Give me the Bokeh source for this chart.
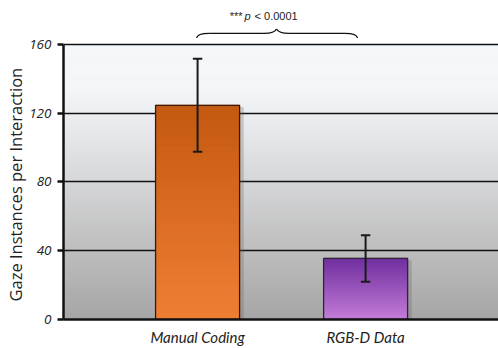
import numpy as np
from bokeh.plotting import figure
from bokeh.models import FixedTicker, Range1d, Title
from bokeh.core.properties import value
from bokeh.embed import file_html
from bokeh.resources import INLINE

# ---- data ----
categories = ["Manual Coding", "RGB-D Data"]
cat_pos = [1, 2]
means = [124.5, 35.5]
errors = [27.0, 13.5]
y_ticks = [0, 40, 80, 120, 160]
y_title = "Gaze Instances per Interaction"
sig_text = "p"
sig_stars = "***"
sig_value = "< 0.0001"

# ---- styling ----
bar_top_colors = ["#c45911", "#7030a0"]
bar_bottom_colors = ["#ef7f34", "#c47dd8"]
bar_edge = ["#3a1a06", "#2e2433"]
bg_stops_v = [0, 40, 80, 120, 135, 160]
bg_stops_c = ["#a5a5a5", "#bdbdbd", "#d5d6d8", "#eceef1", "#f3f6f9", "#f5f8fb"]
X0, X1 = 0.202, 2.791
YMAX = 185.4


def hex2rgb(h):
    h = h.lstrip("#")
    return np.array([int(h[i:i + 2], 16) for i in (0, 2, 4)], float)


def rgb2hex(c):
    return "#%02x%02x%02x" % tuple(int(round(v)) for v in c)


def interp_color(stops_v, stops_c, v):
    cs = np.array([hex2rgb(c) for c in stops_c])
    return rgb2hex([np.interp(v, stops_v, cs[:, k]) for k in range(3)])


p = figure(width=498, height=348, output_backend="svg", toolbar_location=None,
           x_range=Range1d(X0, X1), y_range=Range1d(0, YMAX),
           min_border_left=63, min_border_right=0, min_border_top=0, min_border_bottom=27)
p.outline_line_color = None
p.background_fill_color = "white"
p.border_fill_color = "white"

# background gradient
n = 80
edges = np.linspace(0, y_ticks[-1], n + 1)
mids = (edges[:-1] + edges[1:]) / 2
bg_cols = [interp_color(bg_stops_v, bg_stops_c, m) for m in mids]
p.quad(left=X0, right=X1, bottom=edges[:-1], top=edges[1:],
       fill_color=bg_cols, line_color=bg_cols, line_width=1, level="image")

bw = 0.5
# shadows
for xc, m in zip(cat_pos, means):
    p.quad(left=xc - bw / 2 + 0.01, right=xc + bw / 2 + 0.025, bottom=0, top=m - 1.0,
           fill_color="#5a5a5a", fill_alpha=0.25, line_color=None)

# gradient bars
for xc, m, ct, cb, ce in zip(cat_pos, means, bar_top_colors, bar_bottom_colors, bar_edge):
    k = 60
    e = np.linspace(0, m, k + 1)
    mm = (e[:-1] + e[1:]) / 2
    cols = [interp_color([0, m], [cb, ct], v) for v in mm]
    p.quad(left=xc - bw / 2, right=xc + bw / 2, bottom=e[:-1], top=e[1:],
           fill_color=cols, line_color=cols, line_width=1)
    p.quad(left=xc - bw / 2, right=xc + bw / 2, bottom=0, top=m,
           fill_color=None, line_color=ce, line_width=1.3)

# error bars
lo = [m - e for m, e in zip(means, errors)]
hi = [m + e for m, e in zip(means, errors)]
cap = 0.028
p.segment(x0=cat_pos, y0=lo, x1=cat_pos, y1=hi, line_color="#1a1a1a", line_width=2)
p.segment(x0=[x - cap for x in cat_pos], y0=hi, x1=[x + cap for x in cat_pos], y1=hi,
          line_color="#1a1a1a", line_width=2)
p.segment(x0=[x - cap for x in cat_pos], y0=lo, x1=[x + cap for x in cat_pos], y1=lo,
          line_color="#1a1a1a", line_width=2)

# brace
bx0, bx1, bxp = 0.994, 1.952, 1.470
by_end, by_mid, by_peak = 163.6, 166.3, 168.8
dx = 0.075
bk = dict(line_color="#111111", line_width=1.3)
p.quadratic(x0=[bx0, bxp - dx, bxp + dx, bx1 - dx],
            y0=[by_end, by_mid, by_mid, by_mid],
            x1=[bx0 + dx, bxp, bxp, bx1],
            y1=[by_mid, by_peak, by_peak, by_end],
            cx=[bx0 + 0.005, bxp - 0.012, bxp + 0.012, bx1 - 0.005],
            cy=[by_mid, by_mid, by_mid, by_mid], **bk)
p.segment(x0=[bx0 + dx, bxp + dx], y0=[by_mid, by_mid], x1=[bxp - dx, bx1 - dx],
          y1=[by_mid, by_mid], **bk)

# significance text
ty = 176.5
tf = dict(text_baseline="middle", text_font=value("Liberation Sans"),
          text_font_size="11px", text_color="#222222")
p.text(x=[bxp], y=[ty], text=[sig_stars], x_offset=-34, text_align="right", **tf)
p.text(x=[bxp], y=[ty], text=[sig_text], x_offset=-32, text_align="left",
       text_font_style="italic", **tf)
p.text(x=[bxp], y=[ty], text=[sig_value], x_offset=-22, text_align="left", **tf)

# y title as a left-side title
p.add_layout(Title(text=y_title, align="left", offset=18, text_font="Open Sans",
                   text_font_style="normal", text_font_size="16.5px",
                   text_color="#222222", standoff=0), "left")

# axes / grid
p.xgrid.visible = False
p.ygrid.ticker = FixedTicker(ticks=y_ticks)
p.ygrid.grid_line_color = "#111111"
p.ygrid.grid_line_width = 1.5
p.ygrid.level = "underlay"

p.yaxis.ticker = FixedTicker(ticks=y_ticks)
p.yaxis.bounds = (0, y_ticks[-1])
p.yaxis.axis_line_width = 2.5
p.yaxis.axis_line_color = "#111111"
p.yaxis.major_tick_line_width = 2.5
p.yaxis.major_tick_line_color = "#111111"
p.yaxis.major_tick_out = 6
p.yaxis.major_tick_in = 0
p.yaxis.minor_tick_line_color = None
p.yaxis.major_label_text_font = "Open Sans"
p.yaxis.major_label_text_font_style = "italic"
p.yaxis.major_label_text_font_size = "13.5px"
p.yaxis.major_label_text_color = "#222222"
p.yaxis.major_label_standoff = 6

p.xaxis.ticker = FixedTicker(ticks=cat_pos)
p.xaxis.major_label_overrides = {x: c for x, c in zip(cat_pos, categories)}
p.xaxis.axis_line_width = 2.5
p.xaxis.axis_line_color = "#111111"
p.xaxis.major_tick_line_color = None
p.xaxis.minor_tick_line_color = None
p.xaxis.major_tick_out = 0
p.xaxis.major_tick_in = 0
p.xaxis.major_label_text_font = "Lato"
p.xaxis.major_label_text_font_style = "italic"
p.xaxis.major_label_text_font_size = "15px"
p.xaxis.major_label_text_color = "#222222"
p.xaxis.major_label_standoff = 8

open("out.html", "w").write(file_html(p, INLINE))
